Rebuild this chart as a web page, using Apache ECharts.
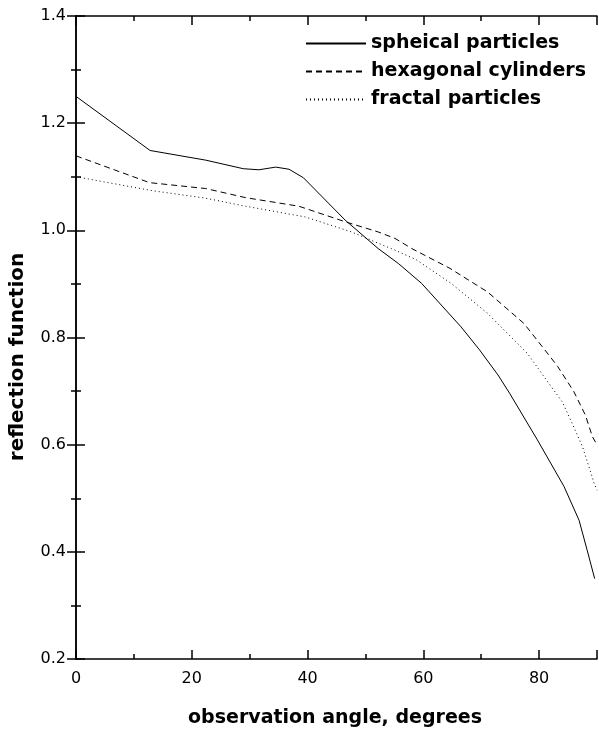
<!DOCTYPE html>
<html>
<head>
<meta charset="utf-8">
<script src="https://cdn.jsdelivr.net/npm/echarts@6/dist/echarts.min.js"></script>
<style>html,body{margin:0;padding:0;background:#fff;}#c{width:599px;height:729px;}</style>
</head>
<body>
<div id="c"></div>
<script>
var seriesNames = ['spheical particles', 'hexagonal cylinders', 'fractal particles'];
var spherical = [[0,1.25],[12.8,1.149],[22.4,1.131],[28.9,1.115],[31.6,1.113],[34.5,1.118],[36.8,1.114],[39.3,1.098],[46.5,1.019],[52.2,0.966],[55.7,0.938],[59.7,0.901],[66.5,0.820],[69.7,0.777],[72.9,0.730],[74.9,0.696],[79.7,0.609],[84.3,0.522],[86.9,0.459],[88.3,0.403],[89.6,0.350]];
var hexagonal = [[0,1.139],[12.7,1.089],[22.4,1.078],[29.3,1.061],[38.5,1.045],[46.5,1.016],[52.2,0.997],[55.1,0.985],[58,0.966],[64.6,0.929],[71.1,0.885],[77.4,0.826],[81.7,0.767],[83.2,0.746],[86,0.699],[88,0.655],[89.2,0.615],[90,0.60]];
var fractal = [[0,1.100],[13.2,1.074],[22.4,1.060],[29.3,1.045],[39.6,1.025],[47.6,0.997],[52.2,0.976],[55.1,0.963],[58.8,0.945],[64.8,0.901],[71.1,0.845],[78,0.770],[81.7,0.714],[84,0.680],[85.7,0.640],[87.5,0.596],[88.6,0.559],[89.5,0.528],[90,0.515]];
var xTitle = 'observation angle, degrees';
var yTitle = 'reflection function';

var FONT = '"DejaVu Sans", Verdana, sans-serif';
var chart = echarts.init(document.getElementById('c'), null, {renderer: 'canvas'});
function axisCommon(showLabel) {
  return {
    axisLine: {show: true, lineStyle: {color: '#000', width: 1.5}},
    axisTick: {show: true, inside: true, length: 9, lineStyle: {color: '#000', width: 1.5}},
    minorTick: {show: true, splitNumber: 2, length: 5, lineStyle: {color: '#000', width: 1.5}},
    splitLine: {show: false},
    axisLabel: {show: showLabel, color: '#000', fontFamily: FONT, fontSize: 16}
  };
}
var xb = Object.assign({type: 'value', min: 0, max: 90, interval: 20, position: 'bottom', gridIndex: 0}, axisCommon(true));
xb.axisLabel.margin = 12;
xb.axisLabel.showMaxLabel = false;
var xt = Object.assign({type: 'value', min: 0, max: 90, interval: 20, position: 'top', gridIndex: 0}, axisCommon(false));
var yl = Object.assign({type: 'value', min: 0.2, max: 1.4, interval: 0.2, position: 'left'}, axisCommon(true));
yl.axisLabel.margin = 10;
yl.axisLabel.formatter = function (v) { return v.toFixed(1); };
var yr = Object.assign({type: 'value', min: 0.2, max: 1.4, interval: 0.2, position: 'right'}, axisCommon(false));

function mk(name, data, type) {
  return {
    name: name, type: 'line', data: data, xAxisIndex: 0, yAxisIndex: 0,
    symbol: 'none', smooth: false, animation: false,
    itemStyle: {color: '#000'},
    lineStyle: {color: '#000', width: 1, type: type}
  };
}

chart.setOption({
  backgroundColor: '#fff',
  animation: false,
  grid: {left: 76, right: 2, top: 16, bottom: 70, containLabel: false},
  xAxis: [xb, xt],
  yAxis: [yl, yr],
  legend: {
    orient: 'vertical', left: 300, top: 29,
    itemWidth: 60, itemHeight: 14, itemGap: 9,
    itemStyle: {opacity: 0},
    textStyle: {fontFamily: FONT, fontSize: 19, fontWeight: 'bold', color: '#000', lineHeight: 19},
    data: seriesNames
  },
  series: [
    mk(seriesNames[0], spherical, 'solid'),
    mk(seriesNames[1], hexagonal, [6, 4]),
    mk(seriesNames[2], fractal, [1, 3])
  ],
  graphic: [
    {type: 'text', x: 335, y: 718, style: {text: xTitle, font: 'bold 19px ' + FONT, fill: '#000', align: 'center', verticalAlign: 'middle'}},
    {type: 'text', x: 18, y: 357, rotation: Math.PI / 2, style: {text: yTitle, font: 'bold 20px ' + FONT, fill: '#000', align: 'center', verticalAlign: 'middle'}}
  ]
});
</script>
</body>
</html>
